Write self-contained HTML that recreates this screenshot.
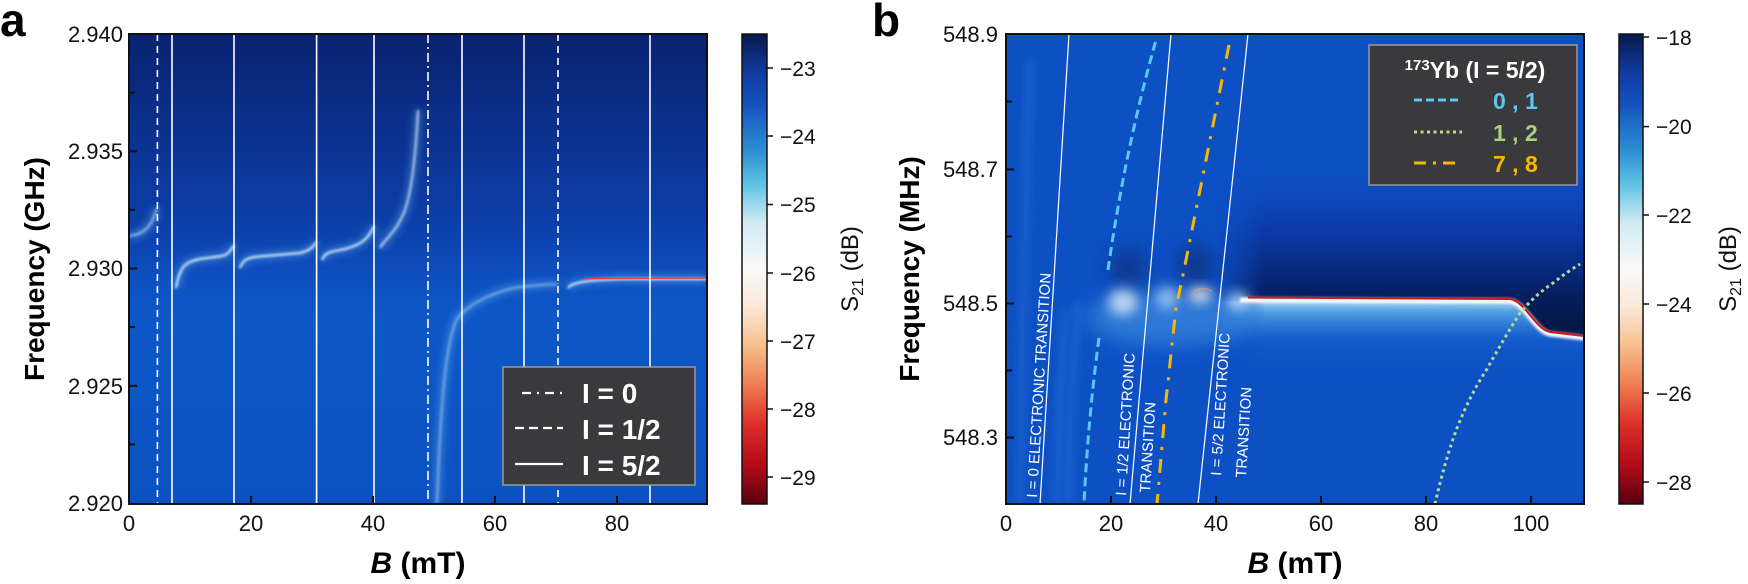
<!DOCTYPE html>
<html><head><meta charset="utf-8"><style>
html,body{margin:0;padding:0;background:#fff;}
svg{display:block;font-family:"Liberation Sans",sans-serif;}
</style></head><body>
<svg width="1748" height="584" viewBox="0 0 1748 584" xmlns="http://www.w3.org/2000/svg">
<defs>
<linearGradient id="bga" x1="0" y1="34" x2="0" y2="504" gradientUnits="userSpaceOnUse">
<stop offset="0" stop-color="#0a2270"/><stop offset="0.4" stop-color="#0c3fa8"/><stop offset="0.52" stop-color="#0d4fbf"/><stop offset="0.6" stop-color="#0d57c7"/><stop offset="1" stop-color="#0b52c1"/>
</linearGradient>
<linearGradient id="cmap" x1="0" y1="0" x2="0" y2="1">
<stop offset="0" stop-color="#08194a"/><stop offset="0.08" stop-color="#0f3a9e"/><stop offset="0.15" stop-color="#1552bf"/><stop offset="0.25" stop-color="#2c8fd2"/><stop offset="0.32" stop-color="#5fc3e3"/><stop offset="0.4" stop-color="#cfeaf3"/><stop offset="0.5" stop-color="#fafafa"/><stop offset="0.58" stop-color="#fbe8d8"/><stop offset="0.66" stop-color="#f7c08e"/><stop offset="0.74" stop-color="#ef8355"/><stop offset="0.83" stop-color="#dc2f28"/><stop offset="0.92" stop-color="#b00a18"/><stop offset="1" stop-color="#5a0010"/>
</linearGradient>
<linearGradient id="darkb" x1="0" y1="170" x2="0" y2="335" gradientUnits="userSpaceOnUse">
<stop offset="0" stop-color="#0b44b5" stop-opacity="0"/><stop offset="0.4" stop-color="#0a38a2"/><stop offset="0.75" stop-color="#061f62"/><stop offset="1" stop-color="#041540"/>
</linearGradient>
<linearGradient id="belowb" x1="0" y1="300" x2="0" y2="380" gradientUnits="userSpaceOnUse">
<stop offset="0" stop-color="#d8f0fa"/><stop offset="0.15" stop-color="#5aaee6"/><stop offset="0.5" stop-color="#1a66d0" stop-opacity="0.6"/><stop offset="1" stop-color="#0d50c4" stop-opacity="0"/>
</linearGradient>
<linearGradient id="hfade" x1="1215" y1="0" x2="1265" y2="0" gradientUnits="userSpaceOnUse">
<stop offset="0" stop-color="#fff" stop-opacity="0"/><stop offset="1" stop-color="#fff" stop-opacity="1"/>
</linearGradient>
<mask id="mfade" maskUnits="userSpaceOnUse" x="1006" y="34" width="578" height="470"><rect x="1006" y="34" width="578" height="470" fill="url(#hfade)"/></mask>
<filter id="bl1" x="-20%" y="-20%" width="140%" height="140%"><feGaussianBlur stdDeviation="1.2"/></filter>
<filter id="bl3" x="-50%" y="-50%" width="200%" height="200%"><feGaussianBlur stdDeviation="4"/></filter>
<filter id="bl5" x="-50%" y="-50%" width="200%" height="200%"><feGaussianBlur stdDeviation="6"/></filter>
<filter id="bl8" x="-50%" y="-50%" width="200%" height="200%"><feGaussianBlur stdDeviation="10"/></filter>
<clipPath id="ca"><rect x="129" y="34" width="578" height="470"/></clipPath>
<clipPath id="cb"><rect x="1006" y="34" width="578" height="470"/></clipPath>
</defs>

<!-- ================= PANEL A ================= -->
<text x="0" y="36" font-size="46" font-weight="bold">a</text>
<g clip-path="url(#ca)">
<rect x="129" y="34" width="578" height="470" fill="url(#bga)"/>
<g fill="none" stroke="#6ab8f0" stroke-width="7" opacity="0.45" filter="url(#bl3)">
<path d="M129,236 C145,234 152,226 157,208"/>
<path d="M176,288 C180,265 186,262 200,259 L222,256 C228,255 231,250 234,245"/>
<path d="M240,268 C243,258 250,257 265,256 L300,253 C308,251 313,248 316,242"/>
<path d="M322,260 C325,252 330,252 345,249 C360,245 368,240 374,226"/>
<path d="M380,248 C385,238 395,235 405,210 C412,190 416,150 418,110"/>
<path d="M437,504 C440,420 445,330 460,315 C475,300 500,290 520,287 C540,285 550,284 558,284"/>
<path d="M568,288 C572,282 590,280 620,279 L707,279"/>
</g>
<g fill="none" stroke="#e6f6ff" stroke-width="2" filter="url(#bl1)">
<path d="M129,236 C145,234 152,226 157,208" opacity="0.6"/>
<path d="M176,288 C180,265 186,262 200,259 L222,256 C228,255 231,250 234,245"/>
<path d="M240,268 C243,258 250,257 265,256 L300,253 C308,251 313,248 316,242"/>
<path d="M322,260 C325,252 330,252 345,249 C360,245 368,240 374,226"/>
<path d="M380,248 C385,238 395,235 405,210 C412,190 416,150 418,110" opacity="0.8"/>
<path d="M437,504 C440,420 445,330 460,315 C475,300 500,290 520,287 C540,285 550,284 558,284" opacity="0.45"/>
<path d="M568,288 C572,282 590,280 620,279 L707,279"/>
</g>
<path d="M585,278.5 L707,278" stroke="#e04040" stroke-width="1.5" fill="none"/>
<g stroke="#fff" stroke-width="1.6" fill="none">
<line x1="157.4" y1="34" x2="157.4" y2="504" stroke-dasharray="7 5"/>
<line x1="172" y1="34" x2="172" y2="504"/>
<line x1="234" y1="34" x2="234" y2="504"/>
<line x1="316.6" y1="34" x2="316.6" y2="504"/>
<line x1="374" y1="34" x2="374" y2="504"/>
<line x1="428" y1="34" x2="428" y2="504" stroke-dasharray="9 4 2 4"/>
<line x1="462" y1="34" x2="462" y2="504"/>
<line x1="524" y1="34" x2="524" y2="504"/>
<line x1="558" y1="34" x2="558" y2="504" stroke-dasharray="7 5"/>
<line x1="650" y1="34" x2="650" y2="504"/>
</g>
<rect x="503" y="367" width="192" height="118" fill="#3a3a3c" stroke="#9a9a9a" stroke-width="1.5"/>
<g stroke="#fff" stroke-width="2.2">
<line x1="522" y1="393" x2="563" y2="393" stroke-dasharray="9 6 2 6"/>
<line x1="515" y1="428" x2="563" y2="428" stroke-dasharray="9 5"/>
<line x1="515" y1="464" x2="563" y2="464"/>
</g>
<g fill="#fff" font-size="28" font-weight="bold">
<text x="582" y="403">I = 0</text>
<text x="582" y="439">I = 1/2</text>
<text x="582" y="475">I = 5/2</text>
</g>
</g>
<rect x="129" y="34" width="578" height="470" fill="none" stroke="#111" stroke-width="2"/>
<g stroke="#111" stroke-width="2">
<line x1="129" y1="34" x2="137" y2="34"/><line x1="129" y1="92.6" x2="135" y2="92.6"/>
<line x1="129" y1="151.3" x2="137" y2="151.3"/><line x1="129" y1="209.9" x2="135" y2="209.9"/>
<line x1="129" y1="268.5" x2="137" y2="268.5"/><line x1="129" y1="327.1" x2="135" y2="327.1"/>
<line x1="129" y1="385.8" x2="137" y2="385.8"/><line x1="129" y1="444.4" x2="135" y2="444.4"/>
<line x1="251" y1="504" x2="251" y2="496"/><line x1="373" y1="504" x2="373" y2="496"/>
<line x1="495" y1="504" x2="495" y2="496"/><line x1="617" y1="504" x2="617" y2="496"/>
</g>
<g font-size="22" text-anchor="end" fill="#111">
<text x="123" y="42">2.940</text><text x="123" y="159">2.935</text><text x="123" y="276">2.930</text><text x="123" y="394">2.925</text><text x="123" y="511">2.920</text>
</g>
<g font-size="22" text-anchor="middle" fill="#111">
<text x="129" y="531">0</text><text x="251" y="531">20</text><text x="373" y="531">40</text><text x="495" y="531">60</text><text x="617" y="531">80</text>
</g>
<text x="418" y="573" font-size="30" font-weight="bold" text-anchor="middle"><tspan font-style="italic">B</tspan> (mT)</text>
<text transform="translate(44,269) rotate(-90)" font-size="28" font-weight="bold" text-anchor="middle">Frequency (GHz)</text>
<rect x="742" y="34" width="25" height="470" fill="url(#cmap)" stroke="#111" stroke-width="1.5"/>
<g stroke="#111" stroke-width="1.5">
<line x1="767" y1="68" x2="773" y2="68"/><line x1="767" y1="136" x2="773" y2="136"/><line x1="767" y1="204.5" x2="773" y2="204.5"/><line x1="767" y1="273" x2="773" y2="273"/><line x1="767" y1="341" x2="773" y2="341"/><line x1="767" y1="409" x2="773" y2="409"/><line x1="767" y1="477" x2="773" y2="477"/>
</g>
<g font-size="21" fill="#111">
<text x="780" y="76">−23</text><text x="780" y="144">−24</text><text x="780" y="212">−25</text><text x="780" y="281">−26</text><text x="780" y="349">−27</text><text x="780" y="417">−28</text><text x="780" y="485">−29</text>
</g>
<text transform="translate(858,269) rotate(-90)" font-size="24" text-anchor="middle" fill="#111">S<tspan font-size="16" dy="5">21</tspan><tspan dy="-5"> (dB)</tspan></text>

<!-- ================= PANEL B ================= -->
<text x="872" y="36" font-size="46" font-weight="bold">b</text>
<g clip-path="url(#cb)">
<rect x="1006" y="34" width="578" height="470" fill="#0d50c4"/>
<g fill="none" stroke="#3a8ae0" stroke-width="6" opacity="0.35" filter="url(#bl3)">
<path d="M1030,60 C1025,200 1022,350 1020,504"/>
<path d="M1065,310 C1060,380 1058,450 1056,504"/>
<path d="M1078,300 C1072,380 1070,450 1068,504"/>
</g>
<g mask="url(#mfade)">
<path d="M1200,100 L1584,100 L1584,337 L1550,333 C1535,330 1525,302 1510,300 L1200,298 Z" fill="url(#darkb)"/>
<path d="M1200,301 L1510,302 C1525,304 1535,332 1550,335 L1584,339 L1584,420 L1200,420 Z" fill="url(#belowb)" opacity="0.85"/>
</g>
<!-- broad glow and dark lobes left -->
<ellipse cx="1170" cy="318" rx="85" ry="28" fill="#4a9ae6" filter="url(#bl8)" opacity="0.55"/>
<ellipse cx="1128" cy="268" rx="18" ry="20" fill="#082868" filter="url(#bl8)" opacity="0.6"/>
<ellipse cx="1196" cy="266" rx="18" ry="22" fill="#082868" filter="url(#bl8)" opacity="0.6"/>
<ellipse cx="1123" cy="302" rx="15" ry="13" fill="#eaf6ff" filter="url(#bl5)" opacity="0.75"/>
<ellipse cx="1167" cy="298" rx="11" ry="11" fill="#d8eefc" filter="url(#bl5)" opacity="0.6"/>
<ellipse cx="1200" cy="295" rx="12" ry="8" fill="#fff4ea" filter="url(#bl5)" opacity="0.8"/>
<ellipse cx="1238" cy="301" rx="10" ry="9" fill="#e0f2ff" filter="url(#bl5)" opacity="0.7"/>
<path d="M1193,292 Q1202,286 1212,291" stroke="#f0a070" stroke-width="1.5" fill="none" opacity="0.6"/>
<path d="M1240,300 L1510,301 C1525,303 1535,331 1550,334 L1584,338" stroke="#ffffff" stroke-width="5" fill="none" filter="url(#bl1)"/>
<path d="M1248,297.5 L1510,299 C1525,301 1535,329 1550,332 L1584,336" stroke="#d01818" stroke-width="2" fill="none"/>
<g stroke="#fff" stroke-width="1.2">
<line x1="1069" y1="34" x2="1040" y2="504"/>
<line x1="1171" y1="34" x2="1130" y2="504"/>
<line x1="1248" y1="34" x2="1198" y2="504"/>
</g>
<g fill="none" stroke="#5cc8f0" stroke-width="3" stroke-dasharray="9 5">
<path d="M1155.5,42 Q1125,150 1107.7,272"/>
<path d="M1099,338 Q1088,420 1084,504"/>
</g>
<path d="M1229,45 L1210,140 L1196,210 L1184,270 L1176,308 L1166,400 L1157,504" fill="none" stroke="#f8b800" stroke-width="3" stroke-dasharray="14 9 3 9"/>
<path d="M1435,504 Q1445,460 1457,428 Q1470,395 1487,369 Q1503,340 1520,313 Q1535,295 1553,283 Q1567,272 1580,264" fill="none" stroke="#b8da8c" stroke-width="3" stroke-dasharray="3 3.5"/>
<g fill="#fff" font-size="15">
<text transform="translate(1037,498) rotate(-86.5)">I = 0 ELECTRONIC TRANSITION</text>
<text transform="translate(1126,496) rotate(-86.5)">I = 1/2 ELECTRONIC</text>
<text transform="translate(1150,493) rotate(-86.5)">TRANSITION</text>
<text transform="translate(1221,476) rotate(-86.5)">I = 5/2 ELECTRONIC</text>
<text transform="translate(1246,478) rotate(-86.5)">TRANSITION</text>
</g>
<rect x="1369" y="45" width="208" height="140" fill="#3a3a3c" stroke="#9a9a9a" stroke-width="1.5"/>
<text x="1475" y="78" font-size="23" font-weight="bold" fill="#fff" text-anchor="middle"><tspan font-size="15" dy="-8">173</tspan><tspan dy="8">Yb (I = 5/2)</tspan></text>
<line x1="1414" y1="100" x2="1462" y2="100" stroke="#5cc8f0" stroke-width="3" stroke-dasharray="8 4"/>
<line x1="1414" y1="132" x2="1462" y2="132" stroke="#b8da8c" stroke-width="3" stroke-dasharray="3 3.5"/>
<line x1="1414" y1="163" x2="1462" y2="163" stroke="#f8b800" stroke-width="3" stroke-dasharray="12 7 3 7"/>
<g font-size="23" font-weight="bold">
<text x="1493" y="109" fill="#5cc8f0">0 , 1</text>
<text x="1493" y="141" fill="#a8d080">1 , 2</text>
<text x="1493" y="172" fill="#f8b800">7 , 8</text>
</g>
</g>
<rect x="1006" y="34" width="578" height="470" fill="none" stroke="#111" stroke-width="2"/>
<g stroke="#111" stroke-width="2">
<line x1="1006" y1="34" x2="1014" y2="34"/><line x1="1006" y1="101.5" x2="1012" y2="101.5"/>
<line x1="1006" y1="169.5" x2="1014" y2="169.5"/><line x1="1006" y1="236.5" x2="1012" y2="236.5"/>
<line x1="1006" y1="303.5" x2="1014" y2="303.5"/><line x1="1006" y1="370.5" x2="1012" y2="370.5"/>
<line x1="1006" y1="437.6" x2="1014" y2="437.6"/>
<line x1="1111" y1="504" x2="1111" y2="496"/><line x1="1216" y1="504" x2="1216" y2="496"/>
<line x1="1321" y1="504" x2="1321" y2="496"/><line x1="1426" y1="504" x2="1426" y2="496"/><line x1="1531" y1="504" x2="1531" y2="496"/>
</g>
<g font-size="22" text-anchor="end" fill="#111">
<text x="998" y="42">548.9</text><text x="998" y="177">548.7</text><text x="998" y="311">548.5</text><text x="998" y="445">548.3</text>
</g>
<g font-size="22" text-anchor="middle" fill="#111">
<text x="1006" y="531">0</text><text x="1111" y="531">20</text><text x="1216" y="531">40</text><text x="1321" y="531">60</text><text x="1426" y="531">80</text><text x="1531" y="531">100</text>
</g>
<text x="1295" y="573" font-size="30" font-weight="bold" text-anchor="middle"><tspan font-style="italic">B</tspan> (mT)</text>
<text transform="translate(919,269) rotate(-90)" font-size="28" font-weight="bold" text-anchor="middle">Frequency (MHz)</text>
<rect x="1619" y="34" width="24" height="470" fill="url(#cmap)" stroke="#111" stroke-width="1.5"/>
<g stroke="#111" stroke-width="1.5">
<line x1="1643" y1="37" x2="1649" y2="37"/><line x1="1643" y1="126.6" x2="1649" y2="126.6"/><line x1="1643" y1="215" x2="1649" y2="215"/><line x1="1643" y1="304" x2="1649" y2="304"/><line x1="1643" y1="393" x2="1649" y2="393"/><line x1="1643" y1="482" x2="1649" y2="482"/>
</g>
<g font-size="21" fill="#111">
<text x="1656" y="45">−18</text><text x="1656" y="134">−20</text><text x="1656" y="223">−22</text><text x="1656" y="312">−24</text><text x="1656" y="401">−26</text><text x="1656" y="490">−28</text>
</g>
<text transform="translate(1736,269) rotate(-90)" font-size="24" text-anchor="middle" fill="#111">S<tspan font-size="16" dy="5">21</tspan><tspan dy="-5"> (dB)</tspan></text>
</svg>
</body></html>
